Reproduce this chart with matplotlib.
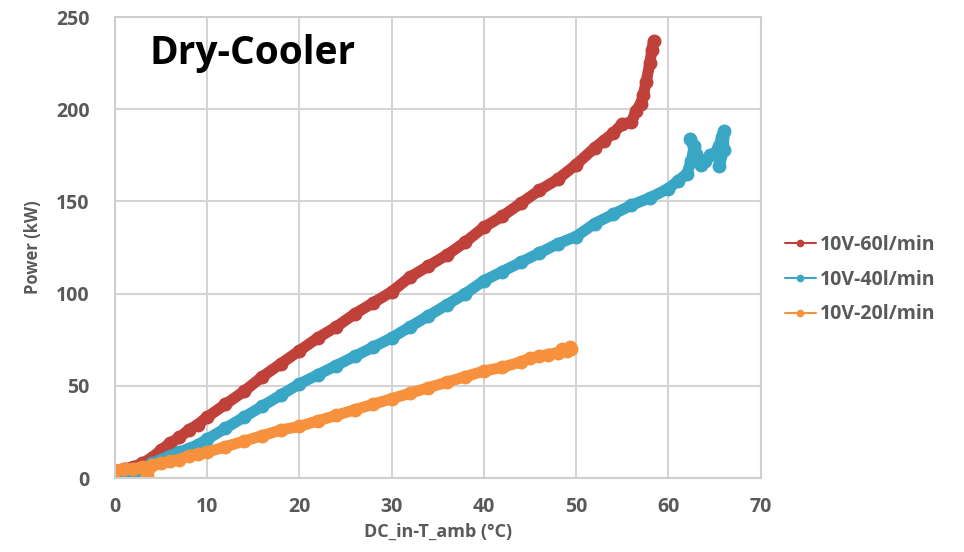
import matplotlib
matplotlib.use('Agg')
import matplotlib.pyplot as plt

plt.rcParams['font.family'] = ['Open Sans', 'DejaVu Sans']

# 10V-60l/min
red_x = [0, 1, 2, 3, 4, 5, 6, 7, 8, 9, 10, 12, 14, 16, 18, 20, 22, 24, 26, 28,
         30, 32, 34, 36, 38, 40, 42, 44, 46, 48, 50, 52, 53, 54, 55, 56, 56.5,
         57, 57.3, 57.6, 58, 58.2, 58.4]
red_y = [4, 5, 6, 8, 11, 15, 19, 22, 26, 29, 33, 40, 47, 55, 62, 69, 76, 82, 89, 95,
         101, 109, 115, 121, 128, 136, 142, 149, 156, 162, 170, 179, 183, 187, 192, 193, 199,
         203, 208, 215, 225, 232, 237]

# 10V-40l/min
blue_x = [0, 0.5, 1.5, 2.4, 3, 4, 5, 6, 7, 8, 9, 10, 12, 14, 16, 18, 20, 22, 24, 26,
          28, 30, 32, 34, 36, 38, 40, 42, 44, 46, 48, 50, 52, 54, 56, 58, 60, 61, 62,
          62.5, 62.8, 62.4, 63, 63.5, 64, 64.5, 65, 65.5, 65.8, 66, 66, 65.5]
blue_y = [0, 3, 4, 0, 5, 8, 10, 12, 14, 16, 18, 21, 27, 33, 39, 45, 51, 56, 61, 66,
          71, 76, 82, 88, 94, 100, 107, 112, 117, 122, 127, 131, 138, 143, 148, 152, 157, 161, 165,
          172, 180, 184, 176, 170, 172, 175, 176, 180, 185, 188, 178, 169]

# 10V-20l/min
orange_x = [0, 1, 2, 3, 3.5, 4, 5, 6, 7, 8, 9, 10, 12, 14, 16, 18, 20, 22, 24, 26,
            28, 30, 32, 34, 36, 38, 40, 42, 44, 45, 46, 47, 48, 48.5, 49, 49.3, 49.5]
orange_y = [4, 5, 5, 6, 1, 7, 8, 9, 10, 12, 13, 14, 17, 20, 23, 26, 28, 31, 34, 37,
            40, 43, 46, 49, 52, 55, 58, 60, 63, 65, 66, 67, 68, 70, 69, 71, 70]

labels = ['10V-60l/min', '10V-40l/min', '10V-20l/min']
colors = ['#c0403a', '#3aa6c5', '#f7913d']

fig = plt.figure(figsize=(9.64, 5.52), dpi=100)
ax = fig.add_axes([0.119, 0.134, 0.670, 0.835])

for xs, ys, lab, c in zip([red_x, blue_x, orange_x], [red_y, blue_y, orange_y], labels, colors):
    ax.plot(xs, ys, '-o', color=c, lw=8, ms=9, label=lab,
            solid_joinstyle='round', solid_capstyle='round')

ax.set(xlim=(0, 70), ylim=(0, 250))
ax.set_xticks(range(0, 71, 10))
ax.set_yticks(range(0, 251, 50))
ax.grid(color='#d4d4d4', linewidth=1.5)
ax.set_axisbelow(True)
for s in ax.spines.values():
    s.set_color('#cfcfcf')
    s.set_linewidth(1.5)
ax.tick_params(axis='x', length=0, pad=14, labelsize=14, labelcolor='#595959')
ax.tick_params(axis='y', length=0, pad=18, labelsize=14, labelcolor='#595959')
for t in ax.get_xticklabels() + ax.get_yticklabels():
    t.set_fontweight('bold')

ax.set_xlabel('DC_in-T_amb (°C)', fontsize=13, fontweight='bold', color='#595959', labelpad=4)
ax.set_ylabel('Power (kW)', fontsize=12, fontweight='bold', color='#595959', labelpad=10)

ax.text(0.054, 0.92, 'Dry-Cooler', transform=ax.transAxes, fontsize=28,
        fontweight='bold', color='black', va='center', ha='left')

leg = ax.legend(loc='center left', bbox_to_anchor=(1.01, 0.43), frameon=False,
                prop={'size': 14, 'weight': 'bold'}, markerscale=0.5, handlelength=1.6,
                handletextpad=0.2, labelspacing=0.75, labelcolor='#595959')
for line in leg.get_lines():
    line.set_linewidth(1.5)

fig.savefig('out.png', dpi=100)
